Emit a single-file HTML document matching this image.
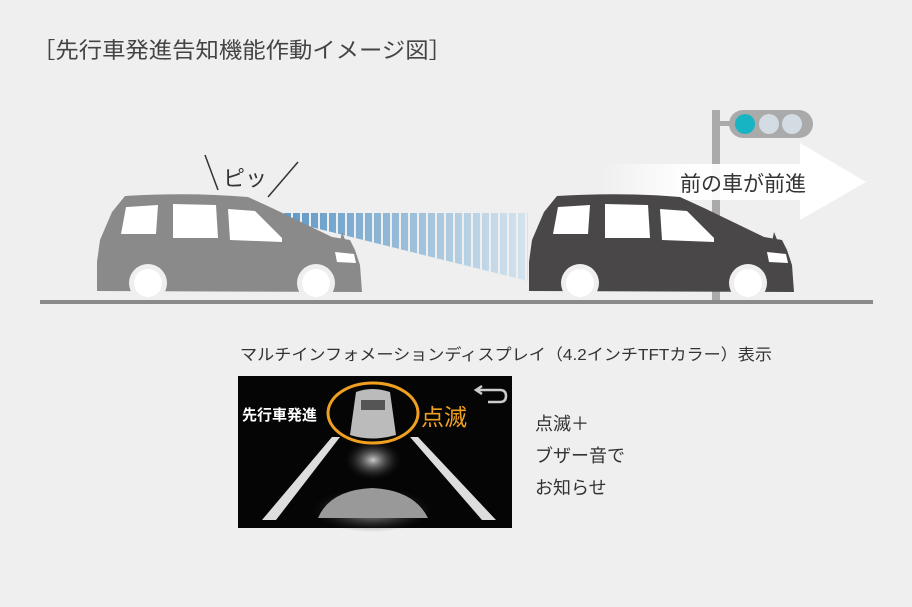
<!DOCTYPE html>
<html><head><meta charset="utf-8"><style>
html,body{margin:0;padding:0;background:#efefef;}
svg{display:block;font-family:"Liberation Sans","Noto Sans CJK JP",sans-serif;}
</style></head><body>
<svg width="912" height="607" viewBox="0 0 912 607" xmlns="http://www.w3.org/2000/svg">
<defs>
<linearGradient id="beam" x1="275" x2="530" y1="0" y2="0" gradientUnits="userSpaceOnUse">
<stop offset="0" stop-color="#5a95c4"/><stop offset="1" stop-color="#d6e4ee"/></linearGradient>
<pattern id="gaps" x="275" y="0" width="9" height="10" patternUnits="userSpaceOnUse">
<rect x="7" y="0" width="2" height="10" fill="#efefef"/></pattern>
<linearGradient id="arr" x1="600" x2="800" y1="0" y2="0" gradientUnits="userSpaceOnUse">
<stop offset="0" stop-color="#fff" stop-opacity="0"/><stop offset="0.4" stop-color="#fff" stop-opacity="0.9"/><stop offset="1" stop-color="#fff"/></linearGradient>
<radialGradient id="glow" cx="0.5" cy="0.5" r="0.5"><stop offset="0" stop-color="#ccc"/><stop offset="1" stop-color="#222" stop-opacity="0"/></radialGradient>
<g id="car">
<path d="M125,196 Q190,192 248,197 L272,208 L332,237 L350,240 L355,250 L360,265 L362,292 L97,291 L97,262 L100,240 L112,212 Z"/>
<path d="M342,232 L346,242 L340,242 Z"/>
</g>
<g id="carw">
<path d="M126,207 L158,205 L156,234 L121,234 Z" fill="#fff"/>
<path d="M173,204 L216,205 L218,238 L173,238 Z" fill="#fff"/>
<path d="M228,209 L255,211 L282,238 L282,242 L230,240 Z" fill="#fff"/>
<path d="M335,252 L354,254 L356,263 L337,262 Z" fill="#fff"/>
</g>
</defs>
<rect width="912" height="607" fill="#efefef"/>
<text x="32" y="58" font-size="22" fill="#444" textLength="420" lengthAdjust="spacingAndGlyphs">［先行車発進告知機能作動イメージ図］</text>

<!-- traffic light -->
<rect x="712" y="110" width="8" height="192" fill="#aaa"/>
<rect x="718" y="121" width="14" height="5" fill="#aaa"/>
<rect x="729" y="110" width="84" height="28" rx="14" fill="#aaa"/>
<circle cx="745" cy="124" r="10" fill="#17b4c4"/>
<circle cx="769" cy="124" r="10" fill="#d3dce2"/>
<circle cx="792" cy="124" r="10" fill="#d3dce2"/>

<!-- arrow -->
<rect x="600" y="164" width="202" height="36" fill="url(#arr)"/>
<path d="M800,143 L866,182 L800,220 Z" fill="#fff"/>
<text x="680" y="191" font-size="21" fill="#333">前の車が前進</text>

<!-- beam -->
<path d="M275,213 L528,213 L528,281 L275,218 Z" fill="url(#beam)"/>
<path d="M275,213 L528,213 L528,281 L275,218 Z" fill="url(#gaps)"/>

<!-- cars -->
<g fill="#8a8a8a"><use href="#car"/></g>
<use href="#carw"/>
<circle cx="148" cy="283" r="19" fill="#efefef"/><circle cx="148" cy="283" r="14" fill="#fff"/>
<circle cx="316" cy="283" r="19" fill="#efefef"/><circle cx="316" cy="283" r="14" fill="#fff"/>
<g transform="translate(432,0)">
<g fill="#4a4748"><use href="#car"/></g>
<use href="#carw"/>
<circle cx="148" cy="283" r="19" fill="#efefef"/><circle cx="148" cy="283" r="14" fill="#fff"/>
<circle cx="316" cy="283" r="19" fill="#efefef"/><circle cx="316" cy="283" r="14" fill="#fff"/>
</g>

<!-- pip -->
<line x1="205" y1="155" x2="218" y2="190" stroke="#333" stroke-width="1.5"/>
<line x1="298" y1="162" x2="268" y2="197" stroke="#333" stroke-width="1.5"/>
<text x="223" y="186" font-size="22" fill="#333">ピッ</text>

<rect x="40" y="300" width="833" height="4" fill="#8a8a8a"/>

<text x="240" y="360" font-size="16" fill="#333" textLength="532" lengthAdjust="spacingAndGlyphs">マルチインフォメーションディスプレイ（4.2インチTFTカラー）表示</text>

<!-- display -->
<rect x="238" y="376" width="274" height="152" fill="#050505"/>
<path d="M332,437 L340,437 L276,520 L262,520 Z" fill="#ddd"/>
<path d="M410,437 L418,437 L496,520 L482,520 Z" fill="#ddd"/>
<ellipse cx="373" cy="460" rx="28" ry="20" fill="url(#glow)"/>
<path d="M356,392 Q372,386 390,392 L396,435 Q372,442 350,435 Z" fill="#bbb"/>
<rect x="361" y="400" width="24" height="10" fill="#555"/>
<ellipse cx="372" cy="510" rx="60" ry="22" fill="url(#glow)"/>
<path d="M318,518 Q330,490 372,488 Q414,490 428,518 Z" fill="#999"/>
<ellipse cx="373" cy="413" rx="45" ry="30" fill="none" stroke="#f0a020" stroke-width="3"/>
<text x="242" y="420" font-size="15" font-weight="bold" fill="#fff">先行車発進</text>
<text x="421" y="425" font-size="23" fill="#f0a020">点滅</text>
<path d="M482,386 L476,390 L482,394 M477,390 L500,390 Q506,390 506,396 Q506,402 500,402 L488,402" fill="none" stroke="#ccc" stroke-width="2.5"/>

<text x="535" y="430" font-size="18" fill="#333">点滅＋</text>
<text x="535" y="462" font-size="18" fill="#333">ブザー音で</text>
<text x="535" y="494" font-size="18" fill="#333">お知らせ</text>
</svg>
</body></html>
